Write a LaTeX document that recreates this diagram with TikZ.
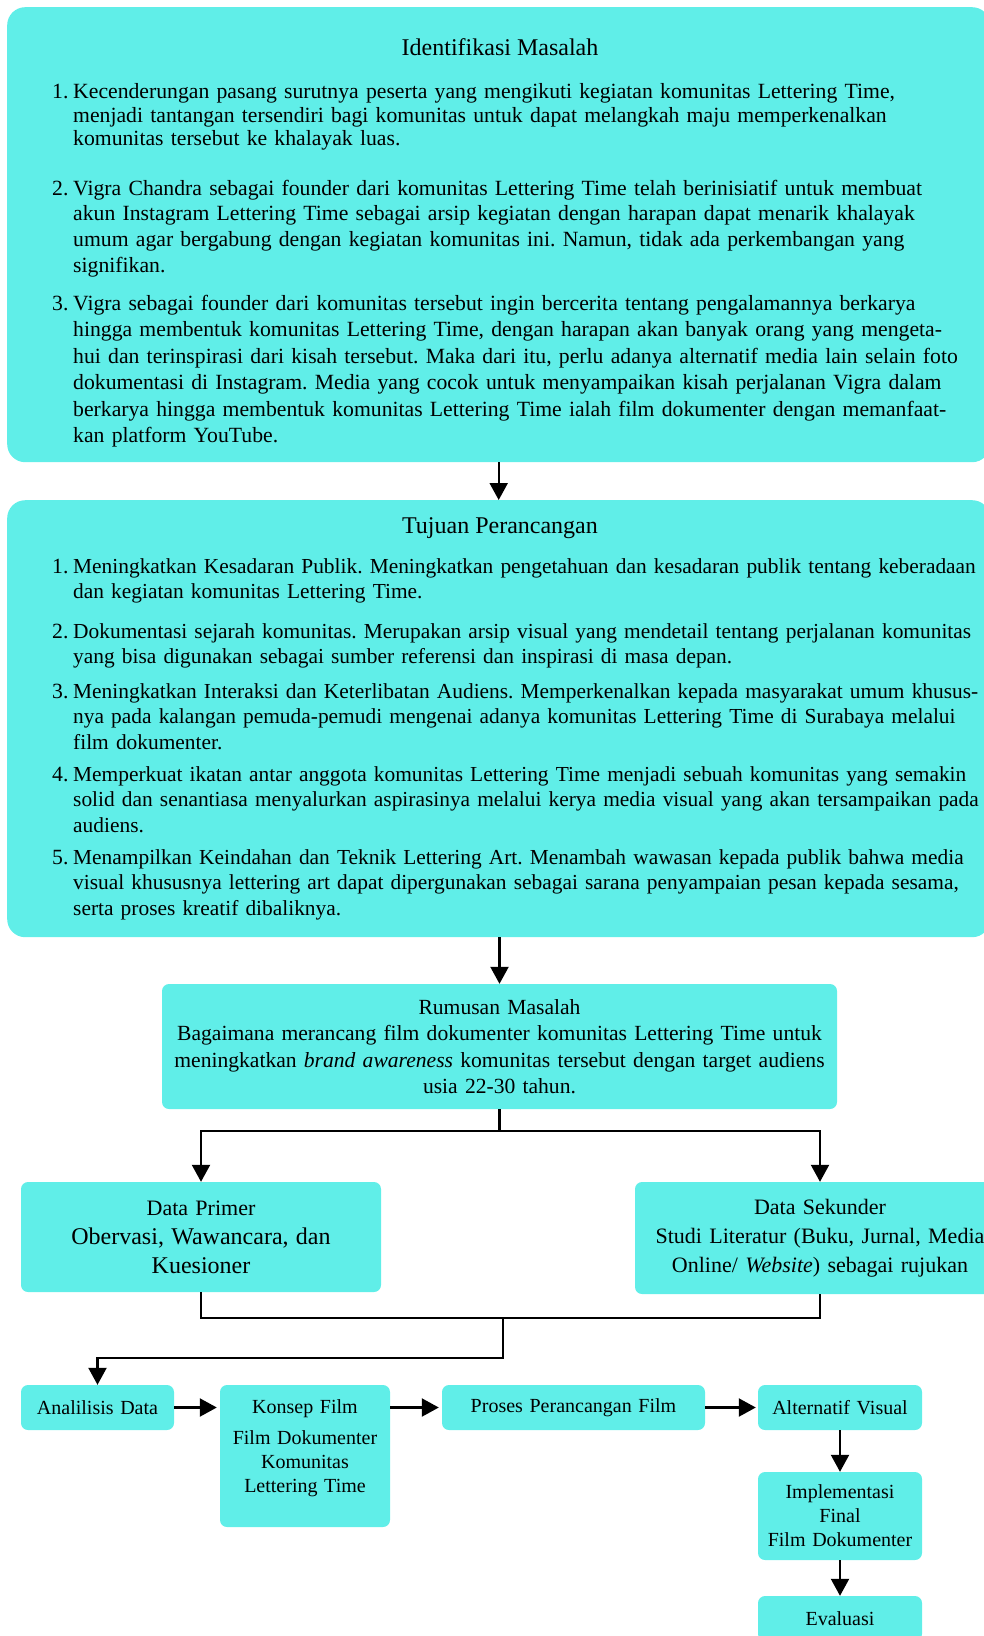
\documentclass[tikz,border=0pt]{standalone}
\usepackage{fontspec}
\setmainfont{Liberation Serif}
\usepackage{tikz}
\usetikzlibrary{arrows.meta,positioning,calc}
\frenchspacing

\definecolor{boxcyan}{RGB}{96,238,232}
\tikzset{
  bigbox/.style={fill=boxcyan, rounded corners=18pt, inner sep=0pt, anchor=north west},
  smallbox/.style={fill=boxcyan, rounded corners=7pt, inner sep=0pt, align=center},
  ttl/.style={font=\fontsize{24}{28}\selectfont, anchor=base},
  num/.style={font=\fontsize{21.7}{25.5}\selectfont, anchor=base west, inner sep=0pt},
  itm/.style={font=\fontsize{21.7}{#1}\selectfont, anchor=base west, inner sep=0pt, text width=940pt, align=left},
  itm/.default=25.5,
  itmb/.style={itm, font=\fontsize{21.4}{25.5}\selectfont},
  conn/.style={line width=2.2pt},
  arr/.style={line width=2.2pt, -{Triangle[length=17pt,width=18pt]}},
}

\begin{document}
\begin{tikzpicture}[x=1pt,y=-1pt]
\useasboundingbox (0,0) rectangle (984,1636);

\node[bigbox, minimum width=983pt, minimum height=455pt] (idm) at (7,7) {};
\node[ttl] (idmt) at (500,55) {Identifikasi Masalah};
\node[num] (idmn1) at (52,98.5) {1.};
\node[itm=23.5] (idm1) at (73,98.5) {Kecenderungan pasang surutnya peserta yang mengikuti kegiatan komunitas Lettering Time,\\menjadi tantangan tersendiri bagi komunitas untuk dapat melangkah maju memperkenalkan\\komunitas tersebut ke khalayak luas.};
\node[num] (idmn2) at (52,195) {2.};
\node[itm=25.8] (idm2) at (73,195) {Vigra Chandra sebagai founder dari komunitas Lettering Time telah berinisiatif untuk membuat\\akun Instagram Lettering Time sebagai arsip kegiatan dengan harapan dapat menarik khalayak\\umum agar bergabung dengan kegiatan komunitas ini. Namun, tidak ada perkembangan yang\\signifikan.};
\node[num] (idmn3) at (52,310) {3.};
\node[itm=26.5] (idm3) at (73,310) {Vigra sebagai founder dari komunitas tersebut ingin bercerita tentang pengalamannya berkarya\\hingga membentuk komunitas Lettering Time, dengan harapan akan banyak orang yang mengeta-\\hui dan terinspirasi dari kisah tersebut. Maka dari itu, perlu adanya alternatif media lain selain foto\\dokumentasi di Instagram. Media yang cocok untuk menyampaikan kisah perjalanan Vigra dalam\\berkarya hingga membentuk komunitas Lettering Time ialah film dokumenter dengan memanfaat-\\kan platform YouTube.};

\node[bigbox, minimum width=983pt, minimum height=437pt] (tjp) at (7,500) {};
\node[ttl] (tjpt) at (500,533) {Tujuan Perancangan};
\node[num] (tjpn1) at (52,573) {1.};
\node[itmb] (tjp1) at (73,573) {Meningkatkan Kesadaran Publik. Meningkatkan pengetahuan dan kesadaran publik tentang keberadaan\\dan kegiatan komunitas Lettering Time.};
\node[num] (tjpn2) at (52,638) {2.};
\node[itmb] (tjp2) at (73,638) {Dokumentasi sejarah komunitas. Merupakan arsip visual yang mendetail tentang perjalanan komunitas\\yang bisa digunakan sebagai sumber referensi dan inspirasi di masa depan.};
\node[num] (tjpn3) at (52,698) {3.};
\node[itmb] (tjp3) at (73,698) {Meningkatkan Interaksi dan Keterlibatan Audiens. Memperkenalkan kepada masyarakat umum khusus-\\nya pada kalangan pemuda-pemudi mengenai adanya komunitas Lettering Time di Surabaya melalui\\film dokumenter.};
\node[num] (tjpn4) at (52,781) {4.};
\node[itmb] (tjp4) at (73,781) {Memperkuat ikatan antar anggota komunitas Lettering Time menjadi sebuah komunitas yang semakin\\solid dan senantiasa menyalurkan aspirasinya melalui kerya media visual yang akan tersampaikan pada\\audiens.};
\node[num] (tjpn5) at (52,864) {5.};
\node[itmb] (tjp5) at (73,864) {Menampilkan Keindahan dan Teknik Lettering Art. Menambah wawasan kepada publik bahwa media\\visual khususnya lettering art dapat dipergunakan sebagai sarana penyampaian pesan kepada sesama,\\serta proses kreatif dibaliknya.};

\node[smallbox, text width=675pt, minimum height=125pt, font=\fontsize{21.6}{26.5}\selectfont] (rms) at (499.5,1046.5) {Rumusan Masalah\\Bagaimana merancang film dokumenter komunitas Lettering Time untuk\\meningkatkan \textit{brand awareness} komunitas tersebut dengan target audiens\\usia 22-30 tahun.};

\node[smallbox, text width=360pt, minimum height=110pt, font=\fontsize{22}{29}\selectfont] (dpr) at (201,1237) {Data Primer\\{\fontsize{24}{29}\selectfont Obervasi, Wawancara, dan}\\{\fontsize{24}{29}\selectfont Kuesioner}};
\node[smallbox, text width=370pt, minimum height=112pt, font=\fontsize{22}{29}\selectfont] (dsk) at (820,1238) {Data Sekunder\\Studi Literatur (Buku, Jurnal, Media\\Online/ \textit{Website}) sebagai rujukan};

\node[smallbox, text width=153pt, minimum height=45pt, font=\fontsize{20}{24}\selectfont] (ana) at (97.5,1407.5) {Analilisis Data};
\node[smallbox, text width=170pt, minimum height=142pt] (kon) at (305,1456) {};
\node[font=\fontsize{20}{24}\selectfont, anchor=base, align=center, text width=170pt, inner sep=0pt] (kont) at (305,1413) {Konsep Film\\[7pt]Film Dokumenter\\Komunitas\\Lettering Time};
\node[smallbox, text width=263pt, minimum height=45pt, font=\fontsize{20}{24}\selectfont] (prc) at (573.5,1407.5) {Proses Perancangan Film};
\node[smallbox, text width=164pt, minimum height=45pt, font=\fontsize{20}{24}\selectfont] (alt) at (840,1407.5) {Alternatif Visual};
\node[smallbox, text width=164pt, minimum height=88pt, font=\fontsize{20}{24}\selectfont] (imp) at (840,1516) {Implementasi\\Final\\Film Dokumenter};
\node[smallbox, text width=164pt, minimum height=45pt, font=\fontsize{20}{24}\selectfont] (evl) at (840,1618.5) {Evaluasi};

\draw[arr] (idm.south) -- (tjp.north);
\draw[arr] (tjp.south -| rms.north) -- (rms.north);
\draw[arr] (rms.south) -- ++(0,22) -| (dpr.north);
\draw[arr] (rms.south) -- ++(0,22) -| (dsk.north);
\coordinate (jn) at (503,1318);
\draw[conn] (dpr.south) |- (jn) -| (dsk.south);
\draw[arr] (jn) -- ++(0,40) -| (ana.north);
\draw[arr, shorten >=3pt] (ana) -- (kon.west |- ana);
\draw[arr, shorten >=3pt] (kon.east |- prc) -- (prc);
\draw[arr, shorten >=2pt] (prc) -- (alt);
\draw[arr] (alt) -- (imp);
\draw[arr] (imp) -- (evl);
\end{tikzpicture}
\end{document}
